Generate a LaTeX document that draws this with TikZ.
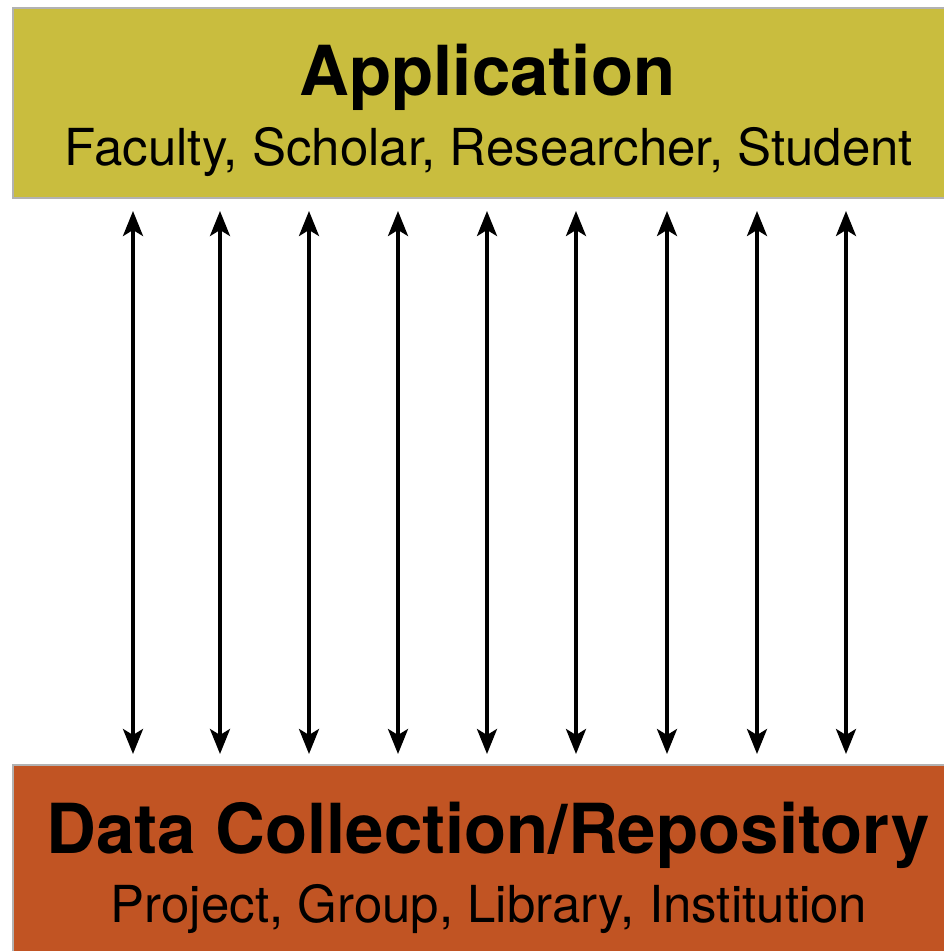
\documentclass[tikz,border=0pt]{standalone}
\usepackage{fontspec}
\setmainfont{TeX Gyre Heros}
\usetikzlibrary{arrows.meta}
\definecolor{appcol}{HTML}{C9BD3E}
\definecolor{datacol}{HTML}{C15423}
\tikzset{
  layerbox/.style={draw=black!30, line width=1.2pt},
  titletext/.style={anchor=base, inner sep=0pt, font=\fontsize{69}{80}\selectfont\bfseries},
  subtext/.style={anchor=base, inner sep=0pt, font=\fontsize{51}{60}\selectfont},
  link/.style={line width=3.4pt, {Stealth[length=25pt,width=20pt,inset=6pt]}-{Stealth[length=25pt,width=20pt,inset=6pt]}}
}
\begin{document}
\begin{tikzpicture}[x=1pt,y=-1pt]
\useasboundingbox (0,0) rectangle (943,951);
\fill[white] (0,0) rectangle (943,951);
\draw[layerbox, fill=appcol] (13,8) rectangle (946,198);
\draw[layerbox, fill=datacol] (13,765) rectangle (946,954);
\node[titletext] (apptitle) at (487.5,95) {Application};
\node[subtext] (appsub) at (489,165) {Faculty, Scholar, Researcher, Student};
\node[titletext] (datatitle) at (488,853) {Data Collection/Repository};
\node[subtext] (datasub) at (489,922) {Project, Group, Library, Institution};
\foreach \i/\x in {1/133,2/220,3/309,4/398,5/487,6/576,7/667,8/757,9/846} {
  \coordinate (t\i) at (\x,211);
  \coordinate (b\i) at (\x,754);
  \draw[link] (t\i) -- (b\i);
}
\end{tikzpicture}
\end{document}
